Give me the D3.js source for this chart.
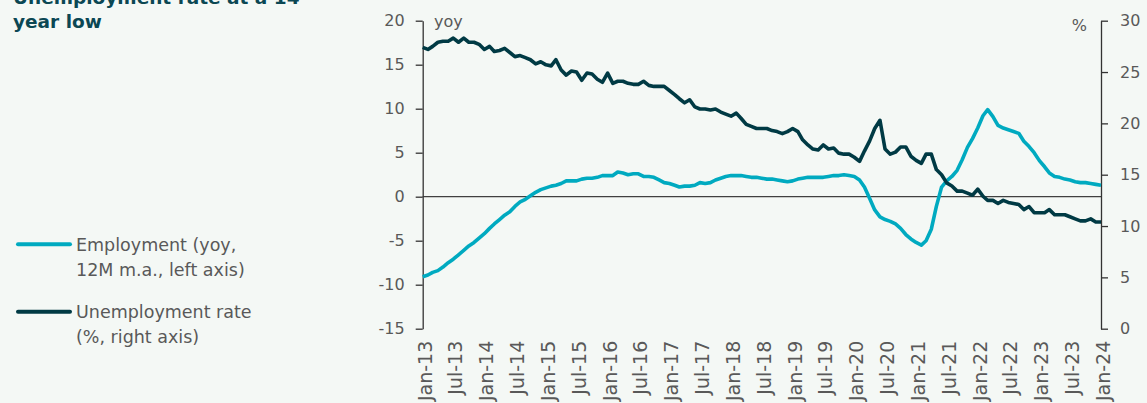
<!DOCTYPE html>
<html><head><meta charset="utf-8">
<script src="https://cdn.jsdelivr.net/npm/d3@7"></script>
<style>
html,body{margin:0;padding:0;background:#F4F8F5;}
svg{display:block;font-family:"DejaVu Sans",sans-serif;}
</style></head>
<body>
<svg id="c" width="1147" height="403"></svg>
<script>
// ---- data ----
const startMonth = "Jan-13";
const employment = [
-9.1,-8.9,-8.6,-8.4,-8.0,-7.5,-7.1,-6.6,-6.1,-5.6,-5.2,-4.7,
-4.2,-3.6,-3.1,-2.6,-2.1,-1.7,-1.1,-0.6,-0.3,0.1,0.5,0.8,
1.0,1.2,1.3,1.5,1.8,1.8,1.8,2.0,2.1,2.1,2.2,2.4,
2.4,2.4,2.8,2.7,2.5,2.6,2.6,2.3,2.3,2.2,1.9,1.6,
1.5,1.3,1.1,1.2,1.2,1.3,1.6,1.5,1.6,1.9,2.1,2.3,
2.4,2.4,2.4,2.3,2.2,2.2,2.1,2.0,2.0,1.9,1.8,1.7,
1.8,2.0,2.1,2.2,2.2,2.2,2.2,2.3,2.4,2.4,2.5,2.4,
2.3,1.9,1.1,-0.2,-1.5,-2.3,-2.6,-2.8,-3.1,-3.6,-4.3,-4.8,
-5.2,-5.5,-5.0,-3.7,-1.1,1.1,1.8,2.3,3.0,4.2,5.6,6.6,
7.8,9.2,9.9,9.1,8.1,7.8,7.6,7.4,7.2,6.3,5.7,5.0,
4.1,3.4,2.7,2.3,2.2,2.0,1.9,1.7,1.6,1.6,1.5,1.4,
1.3];
const unemployment = [
27.4,27.2,27.5,27.9,28.0,28.0,28.3,27.9,28.3,27.9,27.9,27.7,
27.2,27.5,27.0,27.1,27.3,26.9,26.5,26.6,26.4,26.2,25.8,26.0,
25.7,25.6,26.2,25.2,24.7,25.1,25.0,24.2,24.9,24.8,24.3,24.0,
24.9,23.9,24.1,24.1,23.9,23.8,23.8,24.1,23.7,23.6,23.6,23.6,
23.2,22.8,22.4,22.0,22.3,21.6,21.4,21.4,21.3,21.4,21.1,20.9,
20.7,21.0,20.5,19.9,19.7,19.5,19.5,19.5,19.3,19.2,19.0,19.2,
19.5,19.2,18.4,17.9,17.5,17.4,17.9,17.5,17.6,17.1,17.0,17.0,
16.7,16.3,17.3,18.3,19.5,20.3,17.5,17.0,17.2,17.7,17.7,16.8,
16.4,16.1,17.0,17.0,15.5,15.0,14.2,13.9,13.4,13.4,13.2,13.0,
13.6,12.9,12.5,12.5,12.2,12.5,12.3,12.2,12.1,11.6,11.9,11.3,
11.3,11.3,11.6,11.1,11.1,11.1,10.9,10.7,10.5,10.5,10.7,10.4,
10.4];
const xTickLabels = ["Jan-13","Jul-13","Jan-14","Jul-14","Jan-15","Jul-15","Jan-16","Jul-16",
"Jan-17","Jul-17","Jan-18","Jul-18","Jan-19","Jul-19","Jan-20","Jul-20","Jan-21","Jul-21",
"Jan-22","Jul-22","Jan-23","Jul-23","Jan-24"];
const leftTicks = [-15,-10,-5,0,5,10,15,20];
const rightTicks = [0,5,10,15,20,25,30];
const titleLines = ["Unemployment rate at a 14-","year low"];
const legendItems = [
  {name:"employment", lines:["Employment (yoy,","12M m.a., left axis)"]},
  {name:"unemployment", lines:["Unemployment rate","(%, right axis)"]}
];

// ---- chart ----
const colors = {employment:"#00AAC0", unemployment:"#003A44"};
const parse = d3.timeParse("%b-%y");
const fmt = d3.timeFormat("%b-%y");
const t0 = parse(startMonth);
const dates = employment.map((_, i) => d3.timeMonth.offset(t0, i));

const svg = d3.select("#c");
const L = 422.7, R = 1101, T = 20.7, B = 328.7;
const x = d3.scaleTime().domain([dates[0], dates[dates.length-1]]).range([L, R]);
const yL = d3.scaleLinear().domain([-15, 20]).range([B, T]);
const yR = d3.scaleLinear().domain([0, 30]).range([B, T]);

const tickColor = "#595959";
const FONT = "'DejaVu Sans',sans-serif";

// zero line
svg.append("line").attr("x1", L).attr("x2", R).attr("y1", yL(0)).attr("y2", yL(0))
  .attr("stroke", "#404040").attr("stroke-width", 1.2);

// left axis
const gl = svg.append("g").attr("transform", `translate(${L},0)`)
  .call(d3.axisLeft(yL).tickValues(leftTicks).tickFormat(d => String(d))
    .tickSize(7).tickSizeOuter(0).tickPadding(11));
// right axis
const gr = svg.append("g").attr("transform", `translate(${R},0)`)
  .call(d3.axisRight(yR).tickValues(rightTicks).tickFormat(d => String(d))
    .tickSize(7).tickSizeOuter(0).tickPadding(12));
[gl, gr].forEach(g => {
  g.select(".domain").attr("stroke", "#333").attr("stroke-width", 1.3);
  g.selectAll(".tick line").attr("stroke", "#333").attr("stroke-width", 1.3);
  g.selectAll(".tick text").attr("fill", tickColor).style("font-size", "16px")
    .style("font-family", FONT);
});

// bottom axis labels
const gx = svg.append("g").attr("transform", `translate(0,${B})`)
  .call(d3.axisBottom(x).tickValues(xTickLabels.map(parse)).tickFormat(fmt).tickSize(0));
gx.select(".domain").remove();
gx.selectAll(".tick text")
  .attr("fill", tickColor).style("font-size", "19px")
  .style("font-family", FONT)
  .attr("text-anchor", "end")
  .attr("transform", "rotate(-90)")
  .attr("x", -12).attr("y", 0).attr("dy", "0.45em");

// lines
const lineE = d3.line().x((d, i) => x(dates[i])).y(d => yL(d));
const lineU = d3.line().x((d, i) => x(dates[i])).y(d => yR(d));
svg.append("path").datum(employment).attr("d", lineE).attr("fill", "none")
  .attr("stroke", colors.employment).attr("stroke-width", 3.6).attr("stroke-linejoin", "round");
svg.append("path").datum(unemployment).attr("d", lineU).attr("fill", "none")
  .attr("stroke", colors.unemployment).attr("stroke-width", 3.6).attr("stroke-linejoin", "round");

// axis unit labels
svg.append("text").attr("x", 434).attr("y", 26.5).text("yoy")
  .attr("fill", tickColor).style("font-size", "16px");
svg.append("text").attr("x", 1087).attr("y", 31).attr("text-anchor", "end").text("%")
  .attr("fill", tickColor).style("font-size", "16px");

// title
const tt = svg.append("text").attr("x", 13).attr("fill", "#0B4753")
  .style("font-size", "18.5px").style("font-weight", "700");
titleLines.forEach((s, i) => tt.append("tspan").attr("x", 13).attr("y", 4 + i * 24).text(s));

// legend
const legY = [244.3, 311.7];
legendItems.forEach((it, k) => {
  svg.append("line").attr("x1", 18).attr("x2", 70).attr("y1", legY[k]).attr("y2", legY[k])
    .attr("stroke", colors[it.name]).attr("stroke-width", 4).attr("stroke-linecap", "round");
  const t = svg.append("text").attr("fill", tickColor).style("font-size", "17.5px");
  it.lines.forEach((s, i) => t.append("tspan").attr("x", 76).attr("y", legY[k] + 6.5 + i * 25).text(s));
});
</script>
</body></html>
